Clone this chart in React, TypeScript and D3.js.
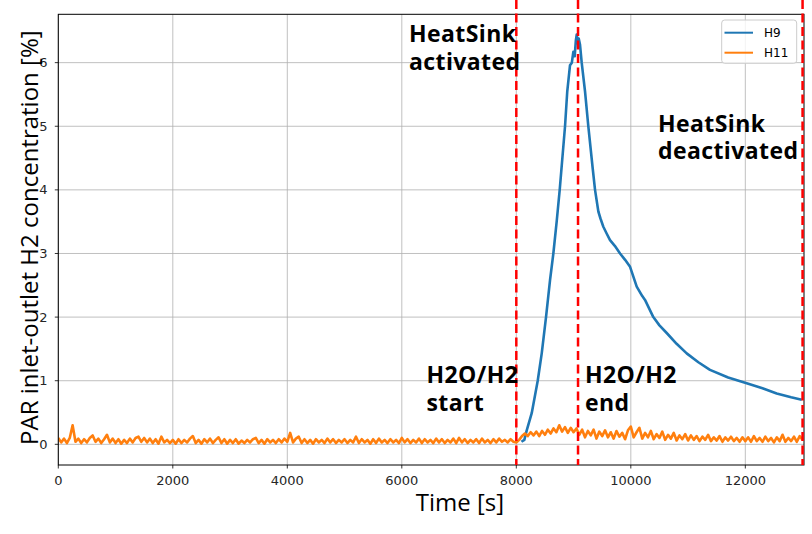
import React from "react";
import * as d3 from "d3";

// ---- data ----
const xTicks = [0, 2000, 4000, 6000, 8000, 10000, 12000];
const yTicks = [0, 1, 2, 3, 4, 5, 6];

// H9 series: [time s, concentration %]
const h9Time = [8090, 8140, 8182, 8269, 8374, 8444, 8519, 8589, 8647, 8705, 8758, 8851, 8890, 8938, 8970, 8996, 9020, 9040, 9055, 9075, 9090, 9113, 9142, 9200, 9258, 9334, 9375, 9433, 9470, 9520, 9580, 9637, 9720, 9812, 9900, 9987, 10103, 10200, 10248, 10393, 10500, 10627, 10800, 10976, 11180, 11383, 11700, 12024, 12300, 12548, 12800, 12985];
const h9Value = [0.04, 0.07, 0.22, 0.49, 1.0, 1.43, 2.0, 2.58, 3.0, 3.5, 4.0, 5.0, 5.55, 5.96, 6.0, 6.17, 6.1, 6.35, 6.44, 6.3, 6.38, 6.28, 6.0, 5.55, 5.0, 4.34, 4.0, 3.66, 3.55, 3.42, 3.31, 3.21, 3.12, 3.0, 2.9, 2.79, 2.48, 2.33, 2.27, 2.0, 1.87, 1.75, 1.58, 1.43, 1.29, 1.17, 1.05, 0.96, 0.88, 0.8, 0.74, 0.7];

// H11 series: sampled every 50 s from 0 to 13000 s
const h11Step = 50;
const h11Value = [
  0.10, 0.03, 0.09, 0.02, 0.10, 0.30, 0.04, 0.09, 0.02, 0.08, 0.03, 0.10, 0.14, 0.04, 0.09, 0.02, 0.08, 0.15, 0.03, 0.09,
  0.02, 0.08, 0.01, 0.07, 0.02, 0.09, 0.03, 0.10, 0.12, 0.04, 0.10, 0.03, 0.09, 0.02, 0.08, 0.01, 0.12, 0.03, 0.07, 0.02,
  0.07, 0.01, 0.08, 0.02, 0.07, 0.03, 0.09, 0.13, 0.02, 0.07, 0.01, 0.08, 0.03, 0.09, 0.02, 0.07, 0.11, 0.02, 0.08, 0.01,
  0.07, 0.02, 0.08, 0.01, 0.06, 0.02, 0.07, 0.03, 0.08, 0.10, 0.02, 0.07, 0.01, 0.08, 0.03, 0.07, 0.02, 0.08, 0.03, 0.09,
  0.04, 0.18, 0.03, 0.09, 0.12, 0.02, 0.08, 0.02, 0.07, 0.01, 0.08, 0.03, 0.07, 0.02, 0.09, 0.03, 0.08, 0.02, 0.07, 0.03,
  0.08, 0.02, 0.07, 0.03, 0.12, 0.02, 0.08, 0.03, 0.07, 0.01, 0.08, 0.02, 0.09, 0.03, 0.07, 0.02, 0.08, 0.03, 0.07, 0.02,
  0.10, 0.03, 0.08, 0.02, 0.07, 0.03, 0.09, 0.02, 0.08, 0.03, 0.07, 0.02, 0.09, 0.03, 0.08, 0.02, 0.07, 0.03, 0.09, 0.02,
  0.10, 0.03, 0.08, 0.02, 0.07, 0.03, 0.08, 0.02, 0.09, 0.03, 0.07, 0.02, 0.08, 0.03, 0.09, 0.04, 0.07, 0.03, 0.08, 0.04,
  0.03, 0.07, 0.13, 0.17, 0.13, 0.19, 0.14, 0.20, 0.13, 0.21, 0.15, 0.23, 0.17, 0.25, 0.19, 0.30, 0.20, 0.27, 0.18, 0.26,
  0.19, 0.25, 0.15, 0.23, 0.11, 0.21, 0.14, 0.23, 0.09, 0.20, 0.13, 0.22, 0.11, 0.19, 0.09, 0.21, 0.12, 0.18, 0.08, 0.22,
  0.28, 0.11, 0.19, 0.26, 0.09, 0.18, 0.11, 0.21, 0.08, 0.16, 0.10, 0.20, 0.07, 0.15, 0.09, 0.18, 0.06, 0.14, 0.08, 0.16,
  0.06, 0.14, 0.07, 0.13, 0.05, 0.12, 0.07, 0.15, 0.05, 0.11, 0.06, 0.13, 0.04, 0.11, 0.06, 0.12, 0.05, 0.10, 0.04, 0.11,
  0.05, 0.11, 0.04, 0.13, 0.05, 0.10, 0.04, 0.12, 0.05, 0.10, 0.03, 0.11, 0.05, 0.15, 0.04, 0.10, 0.05, 0.12, 0.04, 0.13,
  0.07,
];

// event markers (time s)
const eventTimes = [8000, 9078, 13000];

const seriesNames = ["H9", "H11"];
const seriesColors = ["#1f77b4", "#ff7f0e"];

export default function App() {
  const W = 812, H = 534;
  const left = 58.3, right = 804, top = 14.3, bottom = 465;
  const x = d3.scaleLinear().domain([0, 13025]).range([left, right]);
  const y = d3.scaleLinear().domain([-0.325, 6.76]).range([bottom, top]);

  const h9 = h9Time.map((t, i) => [t, h9Value[i]] as [number, number]);
  const h11 = h11Value.map((v, i) => [i * h11Step, v] as [number, number]);
  const line = d3.line<[number, number]>().x((d) => x(d[0])).y((d) => y(d[1]));

  const tickFont = "DejaVu Sans, sans-serif";
  const annFont = "'Open Sans', sans-serif";
  const annStyle: React.CSSProperties = { fontFamily: annFont, fontWeight: 700, fontSize: 23, letterSpacing: 0.4 };

  return (
    <div style={{ position: "absolute", left: 0, top: 0 }}>
      <svg width={W} height={H} style={{ display: "block", background: "#fff" }}>
        <defs>
          <clipPath id="plot">
            <rect x={left} y={top} width={right - left} height={bottom - top} />
          </clipPath>
        </defs>
        {/* grid */}
        {xTicks.map((t) => (
          <line key={"gx" + t} x1={x(t)} x2={x(t)} y1={top} y2={bottom} stroke="#b0b0b0" strokeWidth={0.8} />
        ))}
        {yTicks.map((t) => (
          <line key={"gy" + t} x1={left} x2={right} y1={y(t)} y2={y(t)} stroke="#b0b0b0" strokeWidth={0.8} />
        ))}
        {/* series */}
        <g clipPath="url(#plot)">
          <path d={line(h9) || ""} fill="none" stroke={seriesColors[0]} strokeWidth={2.6} strokeLinejoin="round" />
          <path d={line(h11) || ""} fill="none" stroke={seriesColors[1]} strokeWidth={2.6} strokeLinejoin="round" />
        </g>
        {/* frame */}
        <rect x={left} y={top} width={right - left} height={bottom - top} fill="none" stroke="#000" strokeWidth={1} />
        {/* ticks */}
        {xTicks.map((t) => (
          <g key={"tx" + t}>
            <line x1={x(t)} x2={x(t)} y1={bottom} y2={bottom + 3.5} stroke="#000" strokeWidth={0.8} />
            <text x={x(t)} y={485} textAnchor="middle" fontFamily={tickFont} fontSize={13} fill="#262626">{t}</text>
          </g>
        ))}
        {yTicks.map((t) => (
          <g key={"ty" + t}>
            <line x1={left - 3.5} x2={left} y1={y(t)} y2={y(t)} stroke="#000" strokeWidth={0.8} />
            <text x={47.5} y={y(t) + 4.5} textAnchor="end" fontFamily={tickFont} fontSize={13} fill="#262626">{t}</text>
          </g>
        ))}
        {/* axis labels */}
        <text x={460} y={510.7} textAnchor="middle" fontFamily={annFont} fontSize={24} fill="#000">Time [s]</text>
        <text transform={`translate(37.5, ${(top + bottom) / 2 - 2}) rotate(-90)`} textAnchor="middle" fontFamily={annFont} fontSize={24} fill="#000">
          PAR inlet-outlet H2 concentration [%]
        </text>
        {/* legend */}
        <g>
          <rect x={721.7} y={20} width={75} height={43.3} rx={3} fill="#fff" fillOpacity={0.8} stroke="#cccccc" strokeWidth={1} />
          {seriesNames.map((n, i) => (
            <g key={n}>
              <line x1={724.5} x2={753} y1={32.7 + i * 20} y2={32.7 + i * 20} stroke={seriesColors[i]} strokeWidth={2} />
              <text x={764} y={37 + i * 20} fontFamily={tickFont} fontSize={12} fill="#000">{n}</text>
            </g>
          ))}
        </g>
        {/* event lines */}
        {eventTimes.map((t) => (
          <line key={"ev" + t} x1={x(t)} x2={x(t)} y1={0} y2={bottom} stroke="#ff0000" strokeWidth={2.5} strokeDasharray="9 4.5" />
        ))}
        {/* annotations */}
        <text x={409} y={42.3} style={annStyle}>HeatSink</text>
        <text x={409} y={70} style={annStyle}>activated</text>
        <text x={658} y={131.7} style={annStyle}>HeatSink</text>
        <text x={658} y={159} style={annStyle}>deactivated</text>
        <text x={426.5} y={382.7} style={annStyle}>H2O/H2</text>
        <text x={426.5} y={411} style={annStyle}>start</text>
        <text x={585} y={382.7} style={annStyle}>H2O/H2</text>
        <text x={585} y={411} style={annStyle}>end</text>
      </svg>
    </div>
  );
}
